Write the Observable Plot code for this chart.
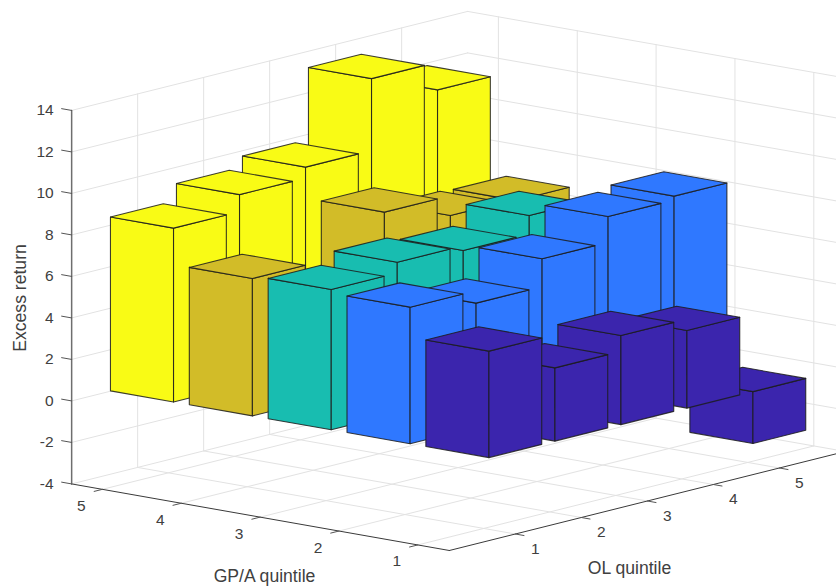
<!DOCTYPE html>
<html>
<head>
<meta charset="utf-8">
<style>html,body{margin:0;padding:0;background:#fff}svg{display:block}</style>
<script src="https://cdn.jsdelivr.net/npm/d3@7"></script>
<script src="https://cdn.jsdelivr.net/npm/@observablehq/plot@0.6"></script>
</head>
<body>
<div id="chart"></div>
<script>
// Data
const gpQuintiles = [5, 4, 3, 2, 1];
const olQuintiles = [1, 2, 3, 4, 5];
const excessGP5 = [8.38, 9.2, 9.73, 13.2, 11.86];
const excessGP4 = [6.62, 4.6, 8.23, 7.27, 7.2];
const excessGP3 = [6.76, 7.28, 7.05, 7.94, 6.0];
const excessGP2 = [6.58, 5.98, 7.32, 8.56, 8.75];
const excessGP1 = [5.13, 3.53, 4.29, 3.74, -2.5];
const excessRows = [excessGP5, excessGP4, excessGP3, excessGP2, excessGP1];
const rowColors = ["#F9FB15", "#D2BC28", "#18BDB0", "#2F78FF", "#3B25AD"];
const zTicks = [-4, -2, 0, 2, 4, 6, 8, 10, 12, 14];
const gpLim = [0.6, 5.39];
const olLim = [0, 6];
const zLim = [-4, 14];
const barWidth = 0.8;

// 3-D view (MATLAB-style orthographic)
function project(gp, ol, z) {
  return {
    x: 417.3 + 66 * ol - 78.85 * (gp - 1),
    y: 550 - 16.5 * ol - 13.9 * (gp - 0.6) - 20.75 * (z + 4)
  };
}

// Faces, painter's order: far rows first
const faces = [];
const half = barWidth / 2;
function addFace(id, gpLabel, corners) {
  const pts = [...corners, corners[0]];
  for (const [g, o, z] of pts) faces.push({id, gp: String(gpLabel), ...project(g, o, z)});
}
gpQuintiles.forEach((g, i) => {
  [...olQuintiles].reverse().forEach(o => {
    const v = excessRows[i][o - 1];
    const hi = Math.max(v, 0), lo = Math.min(v, 0);
    const g0 = g - half, g1 = g + half, o0 = o - half, o1 = o + half;
    addFace(`${g}-${o}-left`, g, [[g1,o0,hi],[g0,o0,hi],[g0,o0,lo],[g1,o0,lo]]);
    addFace(`${g}-${o}-right`, g, [[g0,o0,hi],[g0,o1,hi],[g0,o1,lo],[g0,o0,lo]]);
    addFace(`${g}-${o}-top`, g, [[g1,o0,hi],[g1,o1,hi],[g0,o1,hi],[g0,o0,hi]]);
  });
});

// Grid
const grid = [];
function addLine(list, id, a, b) {
  list.push({id, ...project(...a)}, {id, ...project(...b)});
}
gpQuintiles.forEach(g => {
  addLine(grid, `fg${g}`, [g, olLim[0], zLim[0]], [g, olLim[1], zLim[0]]);
  addLine(grid, `wg${g}`, [g, olLim[1], zLim[0]], [g, olLim[1], zLim[1]]);
});
olQuintiles.forEach(o => {
  addLine(grid, `fo${o}`, [gpLim[0], o, zLim[0]], [gpLim[1], o, zLim[0]]);
  addLine(grid, `wo${o}`, [gpLim[1], o, zLim[0]], [gpLim[1], o, zLim[1]]);
});
zTicks.forEach(z => {
  if (z === zLim[0]) return;
  addLine(grid, `zl${z}`, [gpLim[1], olLim[0], z], [gpLim[1], olLim[1], z]);
  addLine(grid, `zr${z}`, [gpLim[1], olLim[1], z], [gpLim[0], olLim[1], z]);
});
addLine(grid, "floorBack", [gpLim[1], olLim[1], zLim[0]], [gpLim[0], olLim[1], zLim[0]]);
addLine(grid, "floorLeft", [gpLim[1], olLim[0], zLim[0]], [gpLim[1], olLim[1], zLim[0]]);

// Axes
const axisLines = [];
addLine(axisLines, "gpAxis", [gpLim[1], olLim[0], zLim[0]], [gpLim[0], olLim[0], zLim[0]]);
addLine(axisLines, "olAxis", [gpLim[0], olLim[0], zLim[0]], [gpLim[0], olLim[1], zLim[0]]);
const ticks = [];
gpQuintiles.forEach(g => addLine(ticks, `tg${g}`, [g, olLim[0], zLim[0]], [g, -0.125, zLim[0]]));
olQuintiles.forEach(o => addLine(ticks, `to${o}`, [gpLim[0], o, zLim[0]], [gpLim[0] - 0.11, o, zLim[0]]));
zTicks.forEach(z => addLine(ticks, `tz${z}`, [gpLim[1], olLim[0], z], [gpLim[1] + 0.127, olLim[0], z]));
const zAxis = [];
addLine(zAxis, "zAxis", [gpLim[1], olLim[0], zLim[0]], [gpLim[1], olLim[0], zLim[1]]);

const gpLabels = gpQuintiles.map(g => ({t: String(g), ...project(g, olLim[0], zLim[0])}));
const olLabels = olQuintiles.map(o => ({t: String(o), ...project(gpLim[0], o, zLim[0])}));
const zLabels = zTicks.map(z => ({t: String(z), ...project(gpLim[1], olLim[0], z)}));

const font = "'Liberation Sans', Arial, sans-serif";
const ink = "#404040";

const chart = Plot.plot({
  width: 836,
  height: 588,
  margin: 0,
  style: {background: "#fff", fontFamily: font},
  x: {domain: [0, 836], range: [0, 836], axis: null},
  y: {domain: [0, 588], range: [0, 588], axis: null},
  color: {domain: gpQuintiles.map(String), range: rowColors},
  marks: [
    Plot.line(grid, {x: "x", y: "y", z: "id", stroke: "#e2e2e2", strokeWidth: 1}),
    Plot.line(axisLines, {x: "x", y: "y", z: "id", stroke: "#3a3a3a", strokeWidth: 1}),
    Plot.line(zAxis, {x: "x", y: "y", z: "id", stroke: "#6e6e6e", strokeWidth: 1.5}),
    Plot.line(ticks, {x: "x", y: "y", z: "id", stroke: "#555", strokeWidth: 1}),
    Plot.line(faces, {x: "x", y: "y", z: "id", fill: "gp", stroke: "#1c1c1c", strokeWidth: 1.1, strokeOpacity: 0.85, strokeLinejoin: "round"}),
    Plot.text(zLabels, {x: "x", y: "y", text: "t", dx: -18, dy: 0, textAnchor: "end", fontSize: 15.5, fill: ink}),
    Plot.text(gpLabels, {x: "x", y: "y", text: "t", dx: -21, dy: 16.5, fontSize: 15.5, fill: ink}),
    Plot.text(olLabels, {x: "x", y: "y", text: "t", dx: 20, dy: 15, fontSize: 15.5, fill: ink}),
    Plot.text(["GP/A quintile"], {x: () => 264, y: () => 576, text: d => d, fontSize: 17.6, fill: ink}),
    Plot.text(["OL quintile"], {x: () => 629, y: () => 568, text: d => d, fontSize: 17.6, fill: ink}),
    Plot.text(["Excess return"], {x: () => 20, y: () => 297.5, text: d => d, rotate: -90, fontSize: 17.6, fill: ink})
  ]
});
document.getElementById("chart").append(chart);
</script>
</body>
</html>
